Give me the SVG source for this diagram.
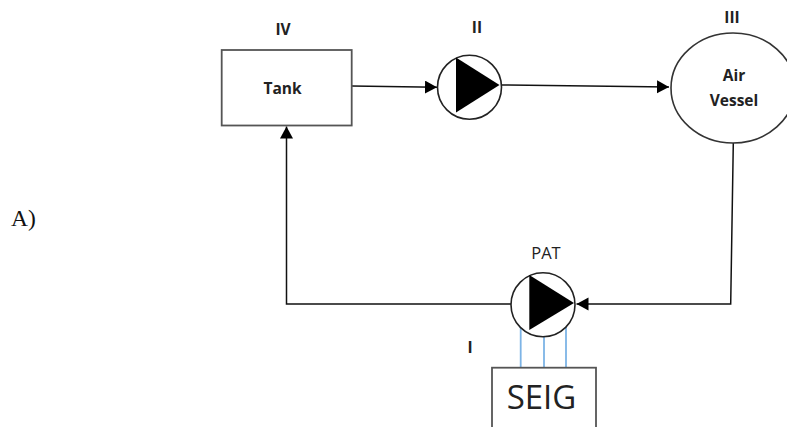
<svg xmlns="http://www.w3.org/2000/svg" width="787" height="427" viewBox="0 0 787 427">
<style>
.box{fill:#fff;stroke:#555;stroke-width:1.8}
.circ{fill:#fff;stroke:#222;stroke-width:1.6}
.ves{fill:#fff;stroke:#333;stroke-width:1.6}
.line{fill:none;stroke:#111;stroke-width:1.5}
.blue{fill:none;stroke:#7db4e6;stroke-width:1.8}
.b{font-family:"Open Sans","Liberation Sans",sans-serif;font-weight:700;font-size:15.500px;fill:#222;text-anchor:middle}
.n{font-family:"Open Sans","Liberation Sans",sans-serif;font-size:16.500px;fill:#222;text-anchor:middle}
</style>
<defs>
<marker id="arr" markerUnits="userSpaceOnUse" markerWidth="13" markerHeight="14" refX="12" refY="6.5" orient="auto">
<path d="M0 0L12 6.500L0 13Z" fill="#000"/>
</marker>
</defs>
<text x="11" y="226" font-family="Liberation Serif, serif" font-size="23.500" fill="#111">A)</text>
<g id="connectors">
<path class="line" d="M352 86L437 87.300" marker-end="url(#arr)"/>
<path class="line" d="M502 85L669 87" marker-end="url(#arr)"/>
<path class="line" d="M733.300 143L730.700 304L576.500 304" marker-end="url(#arr)"/>
<path class="line" d="M511 304L286.500 304L286.500 126.500" marker-end="url(#arr)"/>
<path class="blue" d="M520.700 326V368M544 337V368M566 326V368"/>
</g>
<g id="tank">
<rect class="box" x="221.700" y="50" width="130" height="75.500"/>
<text class="b" x="282.500" y="94">Tank</text>
<text class="b" x="283" y="35">IV</text>
</g>
<g id="pump">
<circle class="circ" cx="469.500" cy="87.300" r="32"/>
<path d="M456 57.500V112.500L499.500 85Z" fill="#000"/>
<text class="b" x="477" y="33">II</text>
</g>
<g id="vessel">
<ellipse class="ves" cx="733" cy="88" rx="62" ry="55"/>
<text class="b" x="734" y="81">Air</text>
<text class="b" x="734" y="106">Vessel</text>
<text class="b" x="732" y="23">III</text>
</g>
<g id="pat">
<circle class="circ" cx="543" cy="304.800" r="32"/>
<path d="M529.300 275V330L574 303Z" fill="#000"/>
<text class="n" x="546" y="259">PAT</text>
<text class="b" x="470" y="353">I</text>
</g>
<g id="seig">
<rect class="box" x="492" y="367.700" width="104" height="70"/>
<text x="541.500" y="409" font-family="Open Sans, Liberation Sans, sans-serif" font-size="33" fill="#222" text-anchor="middle">SEIG</text>
</g>
</svg>
